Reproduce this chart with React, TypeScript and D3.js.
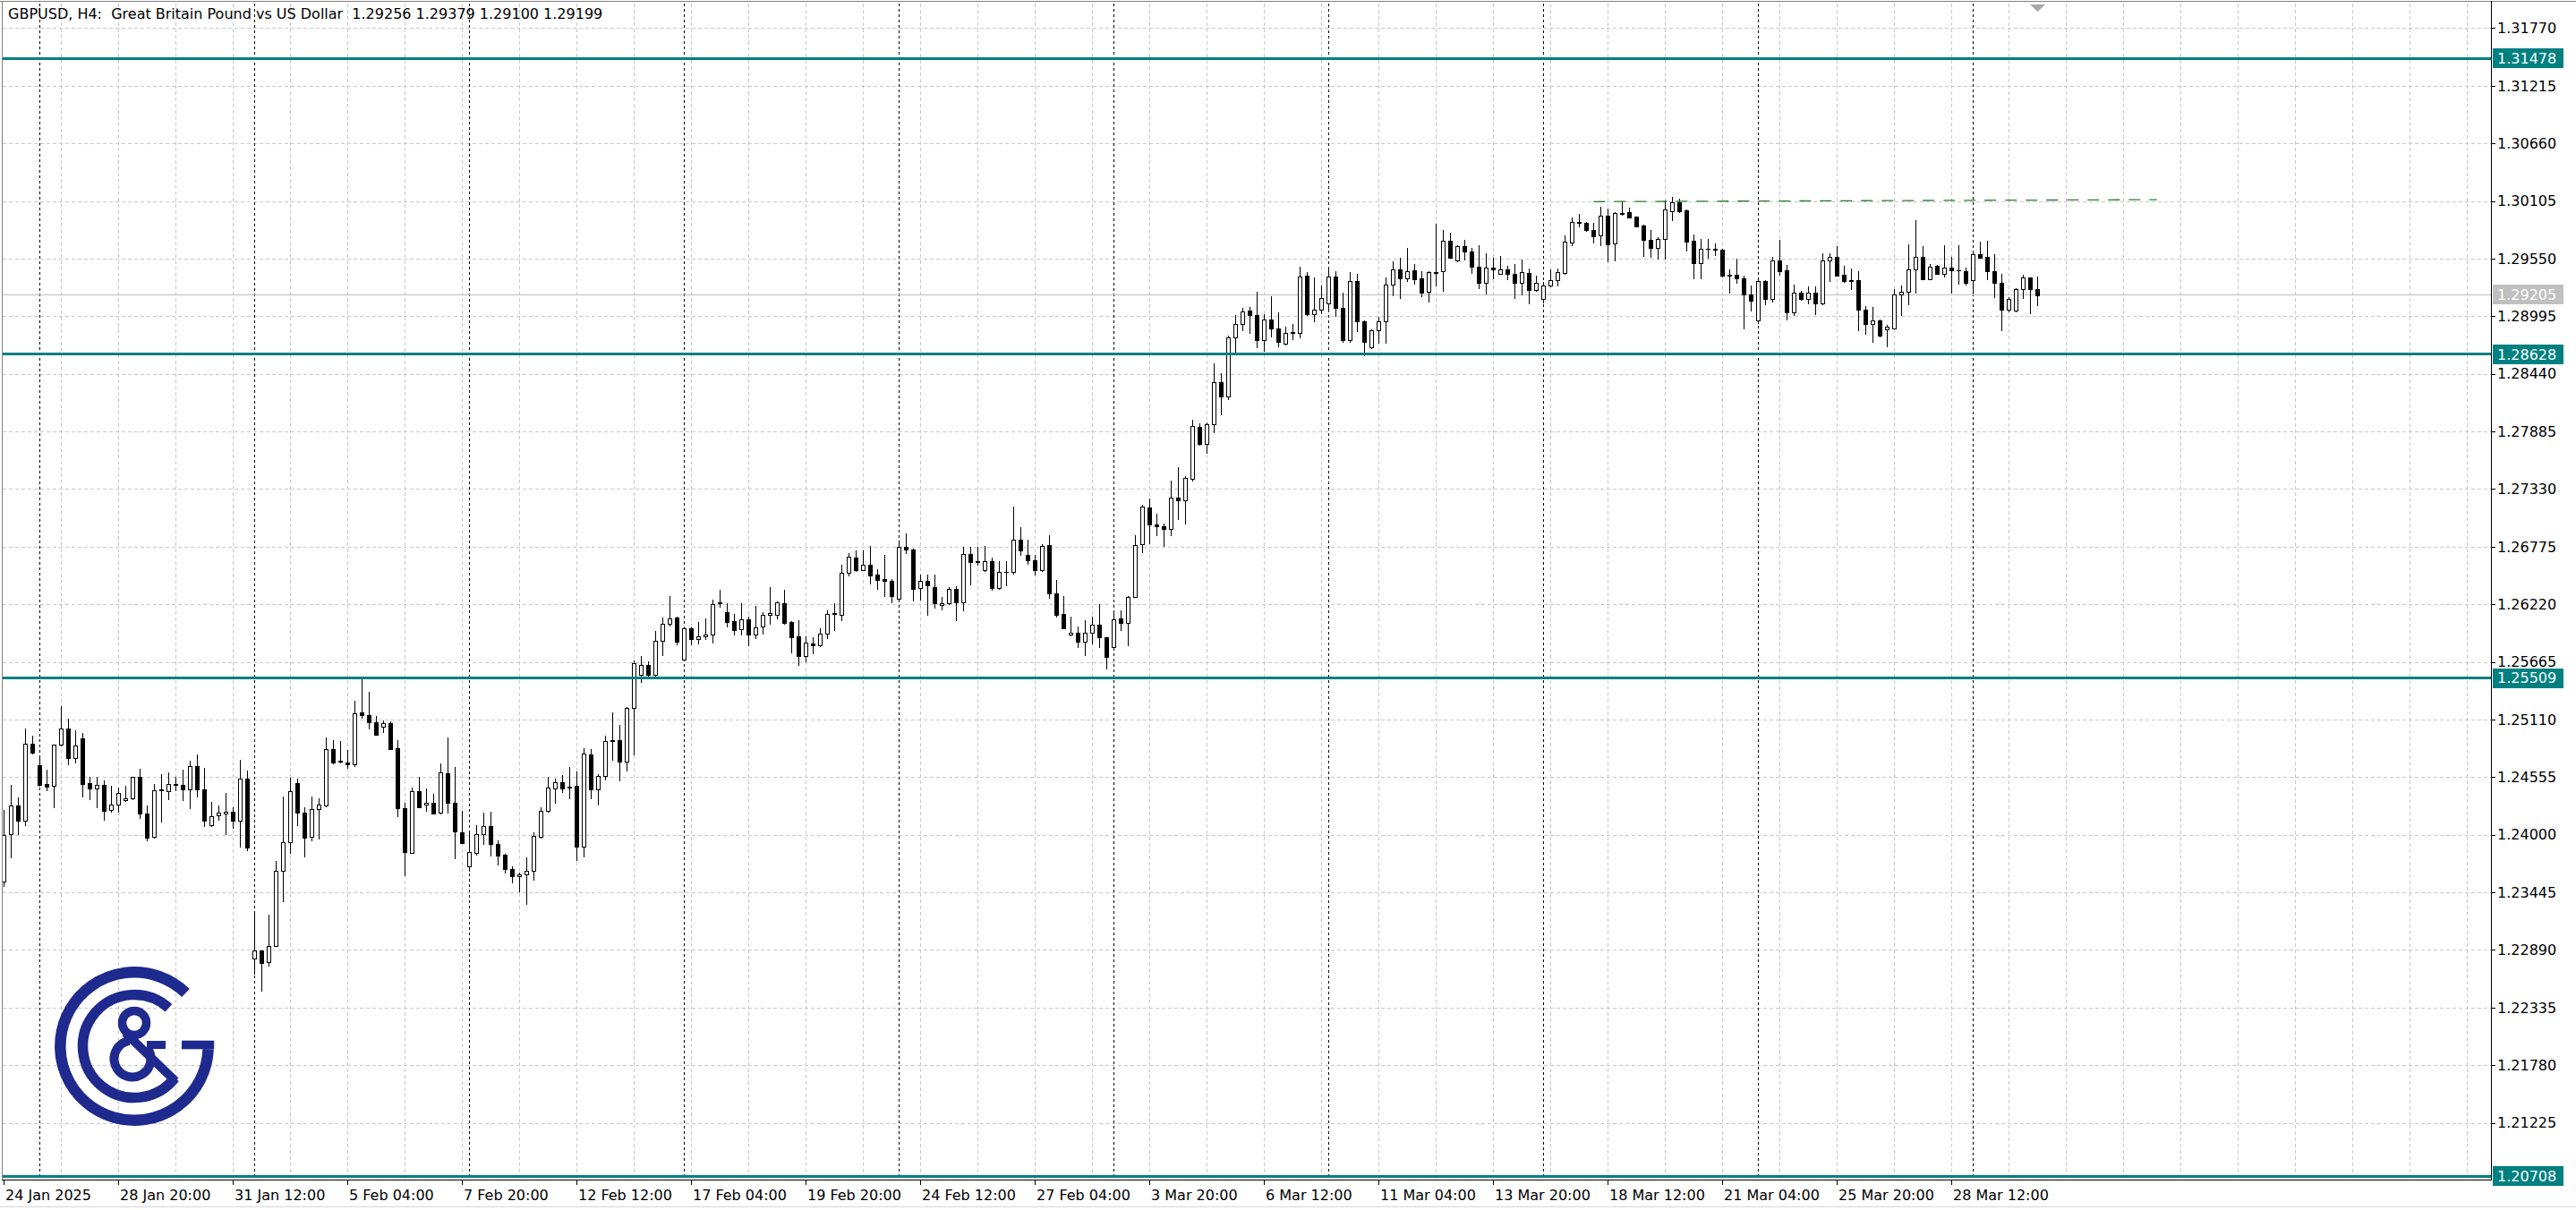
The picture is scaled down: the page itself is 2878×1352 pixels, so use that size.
import React from "react";
import * as d3 from "d3";

// ---------- DATA (GBPUSD H4) ----------
const opens = [
1.23549,1.24002,1.24281,1.24137,1.24876,1.24669,1.24488,1.24468,1.24865,1.25023,
1.24741,1.24928,1.24494,1.24448,1.24477,1.24238,1.24287,1.24330,1.24353,1.24554,
1.24201,1.23980,1.24425,1.24419,1.24491,1.24477,1.24433,1.24660,1.24439,1.24094,
1.24186,1.24204,1.24218,1.24137,1.24540,1.22807,1.22882,1.22772,1.22925,1.23649,
1.23931,1.24497,1.24209,1.23980,1.24244,1.24281,1.24822,1.24709,1.24698,1.24675,
1.25178,1.25149,1.25081,1.25043,1.25072,1.24833,1.24253,1.23827,1.24417,1.24287,
1.24310,1.24210,1.24589,1.24305,1.24023,1.23692,1.23827,1.24003,1.24080,1.23908,
1.23807,1.23669,1.23597,1.23615,1.23649,1.23980,1.24233,1.24445,1.24503,1.24460,
1.24468,1.23888,1.24770,1.24434,1.24563,1.24905,1.24908,1.24707,1.25221,1.25537,
1.25632,1.25537,1.25871,1.26029,1.26092,1.25684,1.25992,1.25885,1.25911,1.25925,
1.26236,1.26144,1.26058,1.25977,1.26072,1.25925,1.26006,1.26115,1.26121,1.26227,
1.26049,1.25911,1.25724,1.25839,1.25828,1.25934,1.26130,1.26121,1.26523,1.26667,
1.26552,1.26601,1.26503,1.26460,1.26446,1.26270,1.26776,1.26745,1.26374,1.26443,
1.26388,1.26210,1.26227,1.26365,1.26236,1.26701,1.26632,1.26546,1.26638,1.26380,
1.26529,1.26535,1.26839,1.26696,1.26644,1.26546,1.26788,1.26322,1.26127,1.25926,
1.25943,1.25857,1.25949,1.26021,1.25900,1.25805,1.26087,1.26044,1.26288,1.26797,
1.27156,1.26989,1.26969,1.26949,1.27248,1.27219,1.27429,1.27926,1.27768,1.27955,
1.28357,1.28219,1.28788,1.28918,1.29047,1.29010,1.28765,1.28961,1.28874,1.28731,
1.28840,1.28837,1.29384,1.29018,1.29061,1.29119,1.29375,1.29076,1.28765,1.29334,
1.28943,1.28693,1.28857,1.28943,1.29297,1.29446,1.29363,1.29435,1.29360,1.29234,
1.29415,1.29426,1.29719,1.29533,1.29668,1.29619,1.29469,1.29320,1.29461,1.29406,
1.29446,1.29406,1.29320,1.29412,1.29245,1.29159,1.29288,1.29340,1.29412,1.29708,
1.29895,1.29895,1.29823,1.29771,1.29964,1.29694,1.29984,1.29995,1.29952,1.29866,
1.29728,1.29656,1.29737,1.30007,1.30093,1.30015,1.29719,1.29504,1.29648,1.29642,
1.29633,1.29383,1.29398,1.29360,1.29202,1.28952,1.29331,1.29159,1.29533,1.29435,
1.29030,1.29225,1.29159,1.29225,1.29116,1.29536,1.29570,1.29398,1.29340,1.29340,
1.29061,1.28923,1.28958,1.28866,1.28880,1.29202,1.29231,1.29446,1.29570,1.29354,
1.29478,1.29406,1.29461,1.29441,1.29432,1.29346,1.29590,1.29564,1.29432,1.29317,
1.29058,1.29047,1.29254,1.29369,1.29256];

const highs = [
1.24238,1.24477,1.24359,1.25023,1.24957,1.24755,1.24626,1.24870,1.25238,1.25120,
1.25005,1.24977,1.24554,1.24554,1.24520,1.24468,1.24454,1.24468,1.24560,1.24635,
1.24281,1.24491,1.24583,1.24597,1.24554,1.24626,1.24712,1.24776,1.24646,1.24316,
1.24281,1.24402,1.24267,1.24718,1.24620,1.23247,1.22882,1.23226,1.23749,1.24367,
1.24546,1.24540,1.24267,1.24367,1.24353,1.24936,1.24908,1.24899,1.24819,1.25287,
1.25509,1.25374,1.25144,1.25101,1.25092,1.24914,1.24310,1.24454,1.24555,1.24445,
1.24397,1.24684,1.24937,1.24649,1.24230,1.24023,1.24089,1.24210,1.24218,1.23942,
1.23816,1.23692,1.23635,1.23778,1.24023,1.24261,1.24555,1.24540,1.24578,1.24655,
1.24612,1.24833,1.24828,1.24583,1.24957,1.25178,1.25058,1.25230,1.25681,1.25719,
1.25667,1.25963,1.26092,1.26302,1.26101,1.26006,1.26000,1.26049,1.26084,1.26265,
1.26357,1.26230,1.26127,1.26230,1.26098,1.26207,1.26144,1.26385,1.26250,1.26359,
1.26055,1.26063,1.25911,1.25905,1.25992,1.26158,1.26230,1.26601,1.26710,1.26739,
1.26739,1.26782,1.26561,1.26696,1.26460,1.26811,1.26903,1.26753,1.26509,1.26509,
1.26503,1.26288,1.26385,1.26394,1.26776,1.26776,1.26776,1.26782,1.26673,1.26638,
1.26638,1.27161,1.26960,1.26839,1.26696,1.26796,1.26882,1.26452,1.26299,1.26101,
1.26006,1.26064,1.26101,1.26222,1.25906,1.26150,1.26164,1.26299,1.26883,1.27179,
1.27236,1.27093,1.26998,1.27409,1.27544,1.27458,1.27998,1.27966,1.27969,1.28541,
1.28443,1.28808,1.29004,1.29076,1.29087,1.29231,1.29018,1.29188,1.29030,1.28895,
1.28923,1.29472,1.29420,1.29369,1.29291,1.29450,1.29430,1.29219,1.29420,1.29400,
1.28952,1.28866,1.28989,1.29369,1.29521,1.29556,1.29650,1.29498,1.29426,1.29426,
1.29886,1.29829,1.29800,1.29679,1.29728,1.29650,1.29679,1.29599,1.29556,1.29579,
1.29484,1.29498,1.29541,1.29455,1.29383,1.29326,1.29449,1.29455,1.29777,1.29949,
1.29981,1.29901,1.29895,1.30050,1.30030,1.29995,1.30102,1.30038,1.29958,1.29880,
1.29823,1.29757,1.30110,1.30145,1.30125,1.30021,1.29786,1.29737,1.29737,1.29699,
1.29642,1.29449,1.29547,1.29383,1.29288,1.29360,1.29346,1.29570,1.29734,1.29492,
1.29297,1.29240,1.29283,1.29283,1.29605,1.29599,1.29671,1.29484,1.29455,1.29426,
1.29096,1.29087,1.28967,1.28909,1.29254,1.29288,1.29685,1.29921,1.29671,1.29498,
1.29490,1.29679,1.29564,1.29679,1.29461,1.29605,1.29714,1.29719,1.29593,1.29406,
1.29182,1.29263,1.29398,1.29369,1.29379];

const lows = [
1.23505,1.23778,1.24008,1.24094,1.24784,1.24468,1.24425,1.24267,1.24856,1.24675,
1.24698,1.24367,1.24344,1.24267,1.24146,1.24224,1.24224,1.24324,1.24344,1.24160,
1.23942,1.23974,1.24129,1.24339,1.24425,1.24330,1.24252,1.24367,1.24080,1.24080,
1.24143,1.24008,1.24066,1.23885,1.23850,1.22657,1.22499,1.22735,1.22925,1.23362,
1.23827,1.24094,1.23793,1.23942,1.23965,1.24275,1.24689,1.24698,1.24640,1.24663,
1.25124,1.25020,1.24966,1.24986,1.24828,1.24181,1.23606,1.23822,1.24261,1.24230,
1.24204,1.24201,1.24210,1.23770,1.23922,1.23655,1.23807,1.23908,1.23802,1.23715,
1.23635,1.23543,1.23454,1.23333,1.23569,1.23974,1.24218,1.24310,1.24411,1.24353,
1.23758,1.23787,1.24353,1.24287,1.24534,1.24721,1.24526,1.24621,1.24776,1.25474,
1.25523,1.25532,1.25727,1.26012,1.25833,1.25675,1.25833,1.25839,1.25882,1.25854,
1.26193,1.26006,1.25928,1.25928,1.25825,1.25897,1.25934,1.26029,1.26086,1.26029,
1.25756,1.25638,1.25667,1.25747,1.25819,1.25897,1.25971,1.26063,1.26495,1.26538,
1.26546,1.26423,1.26371,1.26299,1.26242,1.26265,1.26710,1.26259,1.26265,1.26121,
1.26184,1.26173,1.26222,1.26063,1.26158,1.26408,1.26604,1.26543,1.26357,1.26365,
1.26400,1.26515,1.26696,1.26609,1.26509,1.26538,1.26285,1.26098,1.25986,1.25920,
1.25811,1.25733,1.25840,1.25811,1.25598,1.25799,1.25969,1.25828,1.26288,1.26725,
1.26805,1.26883,1.26782,1.26889,1.27041,1.26998,1.27415,1.27754,1.27682,1.27874,
1.28047,1.28199,1.28645,1.28860,1.28837,1.28693,1.28659,1.28800,1.28708,1.28722,
1.28771,1.28793,1.29010,1.28946,1.29024,1.29038,1.29000,1.28745,1.28751,1.28851,
1.28622,1.28685,1.28736,1.28736,1.29196,1.29173,1.29334,1.29311,1.29191,1.29133,
1.29288,1.29240,1.29556,1.29527,1.29541,1.29412,1.29268,1.29211,1.29363,1.29406,
1.29354,1.29173,1.29202,1.29116,1.29240,1.29130,1.29283,1.29288,1.29406,1.29676,
1.29857,1.29820,1.29705,1.29676,1.29521,1.29536,1.29972,1.29944,1.29857,1.29576,
1.29570,1.29550,1.29550,1.29924,1.30001,1.29628,1.29363,1.29363,1.29561,1.29584,
1.29377,1.29225,1.29320,1.28880,1.29053,1.28929,1.29110,1.29139,1.29398,1.28961,
1.29010,1.29153,1.29116,1.29018,1.29110,1.29331,1.29383,1.29326,1.29254,1.28860,
1.28829,1.28745,1.28803,1.28708,1.28880,1.29010,1.29110,1.29225,1.29354,1.29354,
1.29403,1.29375,1.29225,1.29311,1.29297,1.29225,1.29556,1.29354,1.29182,1.28860,
1.29044,1.29044,1.29173,1.29024,1.29100];

const closes = [
1.23997,1.24281,1.24137,1.24876,1.24793,1.24482,1.24465,1.24865,1.25023,1.24741,
1.24856,1.24491,1.24448,1.24482,1.24232,1.24287,1.24405,1.24353,1.24554,1.24201,
1.23974,1.24425,1.24439,1.24491,1.24477,1.24433,1.24663,1.24439,1.24132,1.24181,
1.24209,1.24218,1.24137,1.24540,1.23879,1.22882,1.22767,1.22925,1.23649,1.23931,
1.24416,1.24209,1.23974,1.24244,1.24287,1.24822,1.24692,1.24701,1.24675,1.25172,
1.25149,1.25081,1.24966,1.25072,1.24828,1.24253,1.23836,1.24417,1.24261,1.24310,
1.24204,1.24598,1.24305,1.24029,1.23922,1.23830,1.24003,1.24080,1.23908,1.23802,
1.23672,1.23597,1.23615,1.23655,1.23985,1.24233,1.24454,1.24503,1.24448,1.24451,
1.23888,1.24779,1.24434,1.24563,1.24905,1.24911,1.24707,1.25221,1.25652,1.25632,
1.25537,1.25871,1.26029,1.26086,1.25862,1.25992,1.25882,1.25911,1.25928,1.26222,
1.26227,1.26049,1.25971,1.26072,1.25925,1.26000,1.26115,1.26135,1.26236,1.26040,
1.25905,1.25724,1.25848,1.25828,1.25934,1.26130,1.26135,1.26523,1.26676,1.26552,
1.26601,1.26495,1.26451,1.26443,1.26302,1.26776,1.26745,1.26371,1.26443,1.26400,
1.26227,1.26227,1.26365,1.26236,1.26701,1.26624,1.26627,1.26638,1.26380,1.26529,
1.26535,1.26839,1.26739,1.26644,1.26546,1.26782,1.26322,1.26115,1.25986,1.25943,
1.25857,1.25949,1.26021,1.25900,1.25710,1.26078,1.26044,1.26288,1.26788,1.27164,
1.26992,1.26969,1.26949,1.27248,1.27219,1.27435,1.27940,1.27768,1.27955,1.28357,
1.28219,1.28788,1.28923,1.29038,1.29010,1.28765,1.28961,1.28874,1.28751,1.28831,
1.28831,1.29375,1.29018,1.29061,1.29168,1.29375,1.29073,1.28765,1.29334,1.28943,
1.28751,1.28857,1.28943,1.29297,1.29446,1.29363,1.29426,1.29354,1.29225,1.29418,
1.29423,1.29719,1.29561,1.29671,1.29619,1.29475,1.29320,1.29461,1.29446,1.29446,
1.29406,1.29320,1.29418,1.29245,1.29317,1.29288,1.29340,1.29418,1.29714,1.29901,
1.29901,1.29823,1.29763,1.29964,1.29691,1.29987,1.29992,1.29949,1.29863,1.29734,
1.29656,1.29737,1.30021,1.30093,1.30007,1.29714,1.29504,1.29648,1.29642,1.29636,
1.29389,1.29398,1.29363,1.29202,1.29148,1.29331,1.29159,1.29533,1.29432,1.29030,
1.29219,1.29159,1.29225,1.29116,1.29536,1.29570,1.29389,1.29331,1.29331,1.29061,
1.28923,1.28952,1.28808,1.28895,1.29202,1.29231,1.29446,1.29570,1.29354,1.29475,
1.29406,1.29461,1.29435,1.29435,1.29317,1.29590,1.29561,1.29432,1.29317,1.29058,
1.29159,1.29254,1.29369,1.29254,1.29199];

const priceTicks = [1.31770,1.31215,1.30660,1.30105,1.29550,1.28995,1.28440,1.27885,1.27330,1.26775,
  1.26220,1.25665,1.25110,1.24555,1.24000,1.23445,1.22890,1.22335,1.21780,1.21225];

const timeLabelBars = [0,16,32,48,64,80,96,112,128,144,160,176,192,208,224,240,256,272];
const timeLabels = ["24 Jan 2025","28 Jan 20:00","31 Jan 12:00","5 Feb 04:00","7 Feb 20:00","12 Feb 12:00",
  "17 Feb 04:00","19 Feb 20:00","24 Feb 12:00","27 Feb 04:00","3 Mar 20:00","6 Mar 12:00","11 Mar 04:00",
  "13 Mar 20:00","18 Mar 12:00","21 Mar 04:00","25 Mar 20:00","28 Mar 12:00"];

const weekStartBars = [5,35,65,95,125,155,185,215,245,275];

const levelPrices = [1.31478,1.28628,1.25509,1.20708];
const currentPrice = 1.29205;

const trendBars = [222,300.7];
const trendPrices = [1.30099,1.30118];

const titleText = "GBPUSD, H4:  Great Britain Pound vs US Dollar  1.29256 1.29379 1.29100 1.29199";

// ---------- LAYOUT ----------
const W = 2878, H = 1352;
const PL = 3, PR = 2783, PT = 4, PB = 1318;

function arcPath(r: number, a0: number, a1: number) {
  // visually counter-clockwise from angle a0 to a1 (degrees, 0 = right, 90 = up)
  const rad = Math.PI / 180;
  const p0 = [r * Math.cos(a0 * rad), -r * Math.sin(a0 * rad)];
  const p1 = [r * Math.cos(a1 * rad), -r * Math.sin(a1 * rad)];
  const span = (((a1 - a0) % 360) + 360) % 360;
  const large = span > 180 ? 1 : 0;
  return `M${p0[0]},${p0[1]} A${r},${r} 0 ${large} 0 ${p1[0]},${p1[1]}`;
}

export default function App() {
  const n = opens.length;
  const x = d3.scaleLinear().domain([0, n - 1]).range([4.3, 4.3 + 8 * (n - 1)]);
  const y = d3.scaleLinear().domain([1.20695, 1.32007]).range([1316, 4]);

  const gridXs = d3.range(1, 44).map((k) => 4.3 + 64 * k).filter((v) => v < PR);
  const fmt = d3.format(".5f");
  const axisFont = "'DejaVu Sans', Verdana, sans-serif";
  const teal = "#008080";

  const candles = d3.range(n).map((i) => {
    const cx = Math.round(x(i));
    const o = opens[i], c = closes[i];
    const top = Math.round(y(Math.max(o, c)));
    const bot = Math.round(y(Math.min(o, c)));
    const bull = c >= o;
    return (
      <g key={i}>
        <line x1={cx + 0.5} x2={cx + 0.5} y1={Math.round(y(highs[i]))} y2={Math.round(y(lows[i])) + 1}
          stroke="#000" strokeWidth={1} />
        {bot - top < 1 ? (
          <line x1={cx - 2} x2={cx + 3} y1={top + 0.5} y2={top + 0.5} stroke="#000" strokeWidth={1} />
        ) : (
          <rect x={cx - 1.5} y={top + 0.5} width={4} height={bot - top}
            fill={bull ? "#fff" : "#000"} stroke="#000" strokeWidth={1} />
        )}
      </g>
    );
  });

  const lineGen = d3.line<[number, number]>().x((d) => x(d[0])).y((d) => y(d[1]));
  const trendPath = lineGen(trendBars.map((b, k) => [b, trendPrices[k]] as [number, number]));

  const lx = 150, ly = 1169;
  const navy = "#1f2a8e";
  const lastX = Math.round(x(n - 1));

  return (
    <div style={{ width: W, height: H, overflow: "hidden", background: "#fff" }}>
      <style>{`html,body{margin:0;padding:0;overflow:hidden;background:#fff}`}</style>
      <svg width={W} height={H} style={{ display: "block" }} shapeRendering="crispEdges">
        <rect x={0} y={0} width={W} height={H} fill="#fff" />
        {/* grid */}
        <g stroke="#c8c8c8" strokeWidth={1} strokeDasharray="4,3">
          {priceTicks.map((p) => (
            <line key={"h" + p} x1={PL} x2={PR} y1={Math.round(y(p)) + 0.5} y2={Math.round(y(p)) + 0.5} />
          ))}
          {gridXs.map((gx) => (
            <line key={"v" + gx} x1={Math.round(gx) + 0.5} x2={Math.round(gx) + 0.5} y1={PT} y2={PB} />
          ))}
        </g>
        {/* weekly separators */}
        <g stroke="#000" strokeWidth={1} strokeDasharray="3,3">
          {weekStartBars.map((b) => (
            <line key={"w" + b} x1={Math.round(x(b)) + 0.5} x2={Math.round(x(b)) + 0.5} y1={PT} y2={PB} />
          ))}
        </g>
        {/* current price line */}
        <line x1={PL} x2={PR} y1={Math.round(y(currentPrice)) + 0.5} y2={Math.round(y(currentPrice)) + 0.5}
          stroke="#c0c0c0" strokeWidth={1} />
        {/* logo */}
        <g transform={`translate(${lx},${ly})`} fill="none" stroke={navy} shapeRendering="geometricPrecision">
          <path d={arcPath(82.7, 46, -2.3)} strokeWidth={12.5} />
          <rect x={53} y={-6.3} width={36.2} height={9.6} fill={navy} stroke="none" />
          <path d={arcPath(57.5, 48, -38)} strokeWidth={11.5} />
          <circle cx={0} cy={-26} r={13.5} strokeWidth={9.5} />
          <g transform="translate(-2,14)">
            <path d={arcPath(20.5, 100, 40)} strokeWidth={10} />
          </g>
          <line x1={-10} y1={-15} x2={46} y2={39} strokeWidth={10} />
          <line x1={14} y1={-1.5} x2={35} y2={-1.5} strokeWidth={9} />
        </g>
        {/* candles */}
        <g>{candles}</g>
        {/* trend line */}
        <path d={trendPath || ""} fill="none" stroke="#2f7d2f" strokeWidth={1.3} strokeDasharray="13,10"
          shapeRendering="geometricPrecision" />
        {/* level lines */}
        {levelPrices.map((p) => (
          <line key={"l" + p} x1={PL} x2={PR} y1={y(p)} y2={y(p)} stroke={teal} strokeWidth={3} />
        ))}
        {/* shift marker */}
        <path d={`M${lastX - 8},5 L${lastX + 9},5 L${lastX + 0.5},13 Z`}
          fill="#a8a8a8" shapeRendering="geometricPrecision" />
        {/* frame */}
        <line x1={0} x2={W} y1={1.5} y2={1.5} stroke="#808080" />
        <line x1={2.5} x2={2.5} y1={1} y2={PB} stroke="#808080" />
        <line x1={PR + 0.5} x2={PR + 0.5} y1={1} y2={PB + 1} stroke="#000" />
        <line x1={2} x2={PR + 1} y1={PB + 0.5} y2={PB + 0.5} stroke="#000" />
        <line x1={0} x2={W} y1={H - 3.5} y2={H - 3.5} stroke="#d8d8d8" />
        {/* title */}
        <text x={9} y={21} fontFamily={axisFont} fontSize={16} fill="#000" style={{ whiteSpace: "pre" }}
          shapeRendering="geometricPrecision">{titleText}</text>
        {/* price axis */}
        <g fontFamily={axisFont} fontSize={16} fill="#000">
          {priceTicks.map((p) => (
            <g key={"pt" + p}>
              <line x1={PR} x2={PR + 5} y1={Math.round(y(p)) + 0.5} y2={Math.round(y(p)) + 0.5} stroke="#000" />
              <text x={PR + 7} y={y(p)} dy="0.36em">{fmt(p)}</text>
            </g>
          ))}
          {levelPrices.map((p) => (
            <g key={"lb" + p}>
              <rect x={PR + 2} y={Math.round(y(p)) - 11} width={79} height={22} fill={teal} />
              <text x={PR + 7} y={y(p)} dy="0.36em" fill="#fff">{fmt(p)}</text>
            </g>
          ))}
          <rect x={PR + 2} y={Math.round(y(currentPrice)) - 11} width={79} height={22} fill="#c0c0c0" />
          <text x={PR + 7} y={y(currentPrice)} dy="0.36em" fill="#fff">{fmt(currentPrice)}</text>
        </g>
        {/* time axis */}
        <g fontFamily={axisFont} fontSize={16} fill="#000">
          {timeLabelBars.map((b, k) => (
            <g key={"tl" + b}>
              <line x1={Math.round(x(b)) + 0.5} x2={Math.round(x(b)) + 0.5} y1={PB} y2={PB + 6} stroke="#000" />
              <text x={Math.round(x(b)) + 2} y={1341}>{timeLabels[k]}</text>
            </g>
          ))}
        </g>
      </svg>
    </div>
  );
}
